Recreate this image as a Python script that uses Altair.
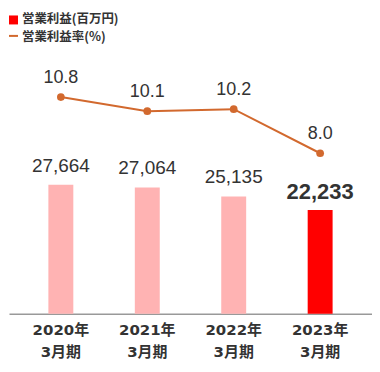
import altair as alt
import pandas as pd

categories = ["2020年\n3月期", "2021年\n3月期", "2022年\n3月期", "2023年\n3月期"]
profit = [27664, 27064, 25135, 22233]
profit_labels = ["27,664", "27,064", "25,135", "22,233"]
margin = [10.8, 10.1, 10.2, 8.0]
margin_labels = ["10.8", "10.1", "10.2", "8.0"]
highlight = [False, False, False, True]

legend_names = ["営業利益(百万円)", "営業利益率(%)"]

df = pd.DataFrame({
    "cat": categories,
    "profit": profit,
    "plabel": profit_labels,
    "margin": margin,
    "mlabel": margin_labels,
    "hl": highlight,
})

W, H = 364, 306
order = categories

x = alt.X("cat:N", sort=order, title=None,
          scale=alt.Scale(paddingOuter=0.1, paddingInner=0),
          axis=alt.Axis(labelAngle=0, ticks=False, domainColor="#999999", domainWidth=1.5,
                        labelFont="DejaVu Sans, Noto Sans CJK JP", labelFontSize=15, labelFontWeight="bold",
                        labelColor="#333333", labelPadding=9, labelLineHeight=22,
                        labelExpr="split(datum.label, '\\n')"))

ybar = alt.Y("profit:Q", scale=alt.Scale(domain=[0, 65440], nice=False), axis=None)
yline = alt.Y("margin:Q", scale=alt.Scale(domain=[0, 15.22], nice=False), axis=None)

base = alt.Chart(df)

bars = base.mark_bar(size=25).encode(
    x=x, y=ybar,
    color=alt.Color("hl:N", scale=alt.Scale(domain=[False, True], range=["#FFB3B3", "#FF0000"]), legend=None),
)
btext = base.transform_filter("!datum.hl").mark_text(
    dy=-13, baseline="alphabetic", font="Liberation Sans", fontSize=19, color="#333333"
).encode(x=x, y=ybar, text="plabel:N")
btext_hl = base.transform_filter("datum.hl").mark_text(
    dy=-11, baseline="alphabetic", font="Liberation Sans", fontSize=22, fontWeight="bold", color="#333333"
).encode(x=x, y=ybar, text="plabel:N")

bar_layer = alt.layer(bars, btext, btext_hl)

line = base.mark_line(color="#D2692E", strokeWidth=2).encode(x=x, y=yline)
pts = base.mark_circle(color="#D2692E", size=60, opacity=1).encode(x=x, y=yline)
ltext = base.mark_text(
    dy=-14, baseline="alphabetic", font="Liberation Sans", fontSize=18, color="#333333"
).encode(x=x, y=yline, text="mlabel:N")
line_layer = alt.layer(line, pts, ltext)

leg_df = pd.DataFrame({"name": legend_names})
leg_sq = alt.Chart(leg_df).transform_filter(alt.datum.name == legend_names[0]).mark_square(
    color="#FF0000", size=81, opacity=1
).encode(x=alt.value(4.5), y=alt.value(11.5))
leg_ln = alt.Chart(leg_df).transform_filter(alt.datum.name == legend_names[1]).mark_rule(
    color="#D2692E", strokeWidth=2
).encode(x=alt.value(0), x2=alt.value(9), y=alt.value(27.5))
leg_t1 = alt.Chart(leg_df).transform_filter(alt.datum.name == legend_names[0]).mark_text(
    align="left", baseline="middle", font="Noto Sans CJK JP", fontSize=12.5, fontWeight="bold", color="#333333"
).encode(x=alt.value(13), y=alt.value(11), text="name:N")
leg_t2 = alt.Chart(leg_df).transform_filter(alt.datum.name == legend_names[1]).mark_text(
    align="left", baseline="middle", font="Noto Sans CJK JP", fontSize=12.5, fontWeight="bold", color="#333333"
).encode(x=alt.value(13), y=alt.value(28.5), text="name:N")

chart = alt.layer(bar_layer, line_layer, leg_sq, leg_ln, leg_t1, leg_t2).resolve_scale(
    y="independent"
).properties(width=W, height=H, padding=0).configure_view(stroke=None)

chart.save("out.html", embed_options={"renderer": "svg", "actions": False})
